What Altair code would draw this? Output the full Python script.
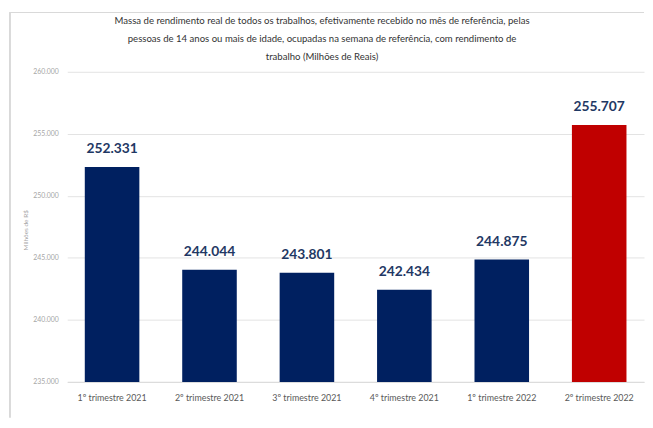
import altair as alt
import pandas as pd

categories = ["1º trimestre 2021", "2º trimestre 2021", "3º trimestre 2021",
              "4º trimestre 2021", "1º trimestre 2022", "2º trimestre 2022"]
values = [252331, 244044, 243801, 242434, 244875, 255707]
colors = ["#002060", "#002060", "#002060", "#002060", "#002060", "#C00000"]
title_lines = [
    "Massa de rendimento real de todos os trabalhos, efetivamente recebido no mês de referência, pelas",
    "pessoas de 14 anos ou mais de idade, ocupadas na semana de referência, com rendimento de",
    "trabalho (Milhões de Reais)",
]
y_min, y_max = 235000, 260000

df = pd.DataFrame({"cat": categories, "val": values, "color": colors})
df["label"] = [f"{v:,}".replace(",", ".") for v in values]

FONT = "Lato"
W, H = 584, 314

x = alt.X("cat:N", sort=categories, title=None,
          scale=alt.Scale(paddingInner=0.44, paddingOuter=0.18),
          axis=alt.Axis(labelAngle=0, labelFont=FONT, labelFontSize=9, labelColor="#595959",
                        labelPadding=12, ticks=False, domainColor="#D9D9D9", domainWidth=1))
y = alt.Y("val:Q", title="Milhões de R$",
          scale=alt.Scale(domain=[y_min, y_max], zero=False, nice=False),
          axis=alt.Axis(values=[235000, 240000, 245000, 250000, 255000, 260000],
                        labelExpr="replace(format(datum.value, ',.0f'), ',', '.')",
                        labelFont=FONT, labelFontSize=7, labelColor="#A6A6A6",
                        labelPadding=9, ticks=False, domain=False,
                        gridColor="#E3E3E3", gridWidth=1,
                        titleFont=FONT, titleFontSize=6.5, titleColor="#A6A6A6",
                        titleFontWeight="normal", titleX=-39, titleY=160))

bars = alt.Chart(df).mark_bar().encode(
    x=x, y=y, y2=alt.datum(y_min), color=alt.Color("color:N", scale=None)
)
labels = alt.Chart(df).mark_text(font=FONT, fontSize=14, fontWeight="bold",
                                 color="#1F3864", baseline="alphabetic", dy=-14).encode(
    x=alt.X("cat:N", sort=categories), y="val:Q", text="label:N"
)
frame_v = alt.Chart(df).mark_rule(color="#D9D9D9", strokeWidth=1).encode(
    x=alt.value(-58), y=alt.value(-60), y2=alt.value(H + 36))
frame_h = alt.Chart(df).mark_rule(color="#D9D9D9", strokeWidth=1).encode(
    x=alt.value(-58), x2=alt.value(W), y=alt.value(-60), y2=alt.value(-60))

chart = alt.layer(frame_v, frame_h, bars, labels).properties(
    width=W, height=H,
    title=alt.TitleParams(title_lines, font=FONT, fontSize=9.7, fontWeight="normal",
                          color="#333333", lineHeight=18, offset=0, dx=-34, dy=50,
                          baseline="top", anchor="middle"),
    autosize=alt.AutoSizeParams(type="none"),
    padding={"left": 60, "top": 62, "right": 1, "bottom": 36},
    background="white",
).configure_view(stroke=None)

chart.save("out.html", embed_options={"renderer": "svg", "actions": False})
